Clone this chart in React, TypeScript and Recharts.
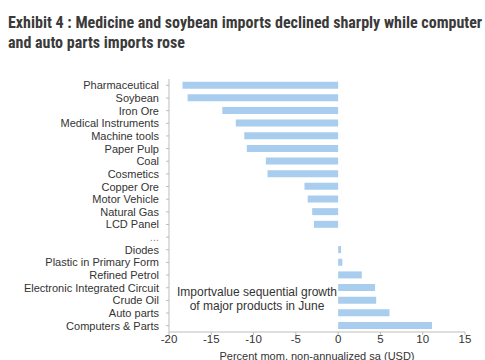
import React from "react";
import { BarChart, Bar, XAxis, YAxis } from "recharts";

const categories = [
  "Pharmaceutical",
  "Soybean",
  "Iron Ore",
  "Medical Instruments",
  "Machine tools",
  "Paper Pulp",
  "Coal",
  "Cosmetics",
  "Copper Ore",
  "Motor Vehicle",
  "Natural Gas",
  "LCD Panel",
  "...",
  "Diodes",
  "Plastic in Primary Form",
  "Refined Petrol",
  "Electronic Integrated Circuit",
  "Crude Oil",
  "Auto parts",
  "Computers & Parts",
];

const values: (number | null)[] = [
  -18.4, -17.8, -13.7, -12.1, -11.1, -10.8, -8.55, -8.35, -3.98, -3.6, -3.07, -2.87,
  null, 0.35, 0.5, 2.8, 4.37, 4.5, 6.07, 11.1,
];

const xTicks = [-20, -15, -10, -5, 0, 5, 10, 15];

const data = categories.map((name, i) => ({ name, value: values[i] }));

const axisColor = "#bdbdbd";
const textColor = "#333333";

const YTick = (props: any) => {
  const { x, y, payload } = props;
  return (
    <text
      x={x}
      y={y}
      textAnchor="end"
      dominantBaseline="central"
      fontSize={11}
      fill={payload.value === "..." ? "#888888" : textColor}
      fontFamily="'Liberation Sans', Arial, sans-serif"
    >
      {payload.value}
    </text>
  );
};

export default function App() {
  return (
    <div style={{ position: "absolute", left: 0, top: 0, width: 485, height: 360, background: "#fff" }}>
      <div
        style={{
          position: "absolute",
          left: 8,
          top: 13,
          width: 475,
          fontFamily: "'Liberation Sans Narrow', 'Roboto Condensed', sans-serif",
          fontWeight: 700,
          fontSize: 16,
          lineHeight: "20px",
          color: "#3a3a3a",
        }}
      >
        Exhibit 4 : Medicine and soybean imports declined sharply while computer and auto parts imports rose
      </div>
      <BarChart
        width={485}
        height={360}
        data={data}
        layout="vertical"
        margin={{ top: 79, right: 20, bottom: 0, left: 9 }}
        barCategoryGap="21%"
        style={{ fontFamily: "'Liberation Sans', Arial, sans-serif" }}
      >
        <XAxis
          type="number"
          domain={[-20, 15]}
          ticks={xTicks}
          interval={0}
          tick={{ fill: textColor, fontSize: 11.5 }}
          tickSize={3}
          tickMargin={0}
          tickLine={{ stroke: axisColor }}
          axisLine={{ stroke: axisColor }}
          height={28}
          label={{
            value: "Percent mom, non-annualized sa (USD)",
            position: "insideBottom",
            offset: 0,
            fill: textColor,
            fontSize: 11,
          }}
        />
        <XAxis
          xAxisId="top"
          orientation="top"
          type="number"
          domain={[-20, 15]}
          tick={false}
          tickLine={false}
          axisLine={{ stroke: axisColor }}
          height={0}
        />
        <YAxis
          type="category"
          dataKey="name"
          width={160}
          interval={0}
          tick={<YTick />}
          tickSize={3}
          tickMargin={7}
          tickLine={{ stroke: axisColor }}
          axisLine={{ stroke: axisColor }}
        />
        <YAxis
          yAxisId="right"
          orientation="right"
          type="category"
          dataKey="name"
          tick={false}
          tickLine={false}
          axisLine={{ stroke: axisColor }}
          width={0}
        />
        <Bar dataKey="value" fill="#a9cdee" isAnimationActive={false} />
        <text
          x={257}
          y={296}
          textAnchor="middle"
          fontSize={12}
          fill={textColor}
          fontFamily="'Liberation Sans', Arial, sans-serif"
        >
          <tspan x={257} dy={0}>Importvalue sequential growth</tspan>
          <tspan x={257} dy={14}>of major products in June</tspan>
        </text>
      </BarChart>
    </div>
  );
}
